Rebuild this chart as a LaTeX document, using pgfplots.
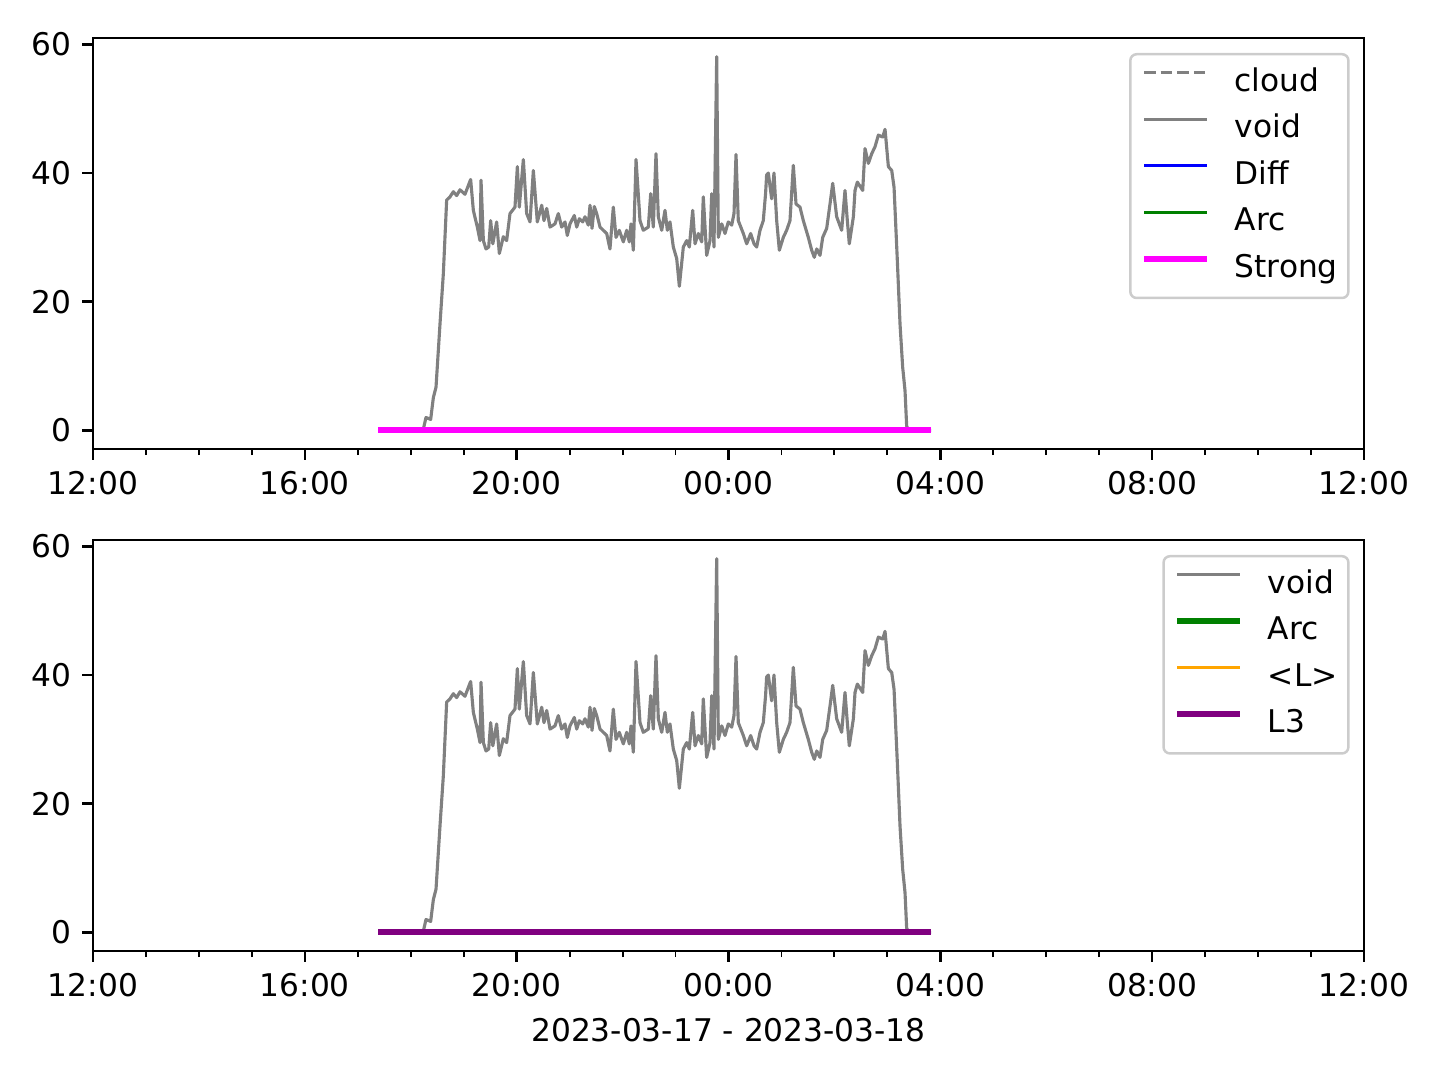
\documentclass[border=0pt]{standalone}
\usepackage{fontspec}
\setmainfont{DejaVu Sans}
\usepackage{pgfplots}
\usepackage{pgfplotstable}
\pgfplotsset{compat=1.18}

\definecolor{mgray}{RGB}{128,128,128}
\definecolor{mblue}{RGB}{0,0,255}
\definecolor{mgreen}{RGB}{0,128,0}
\definecolor{mmagenta}{RGB}{255,0,255}
\definecolor{morange}{RGB}{255,165,0}
\definecolor{mpurple}{RGB}{128,0,128}

% hours since 00:00 on 2023-03-17
\pgfplotstableread{
h v
17.382 0
18.200 0
18.238 0.2
18.288 2.0
18.376 1.7
18.427 5.1
18.477 6.7
18.552 16.5
18.615 24.3
18.678 35.8
18.741 36.3
18.804 37.1
18.867 36.5
18.930 37.4
19.024 36.7
19.131 39.0
19.182 34.2
19.257 31.6
19.308 29.5
19.327 38.9
19.371 29.5
19.421 28.2
19.472 28.5
19.509 32.6
19.550 29.0
19.622 32.4
19.673 27.5
19.748 30.1
19.811 29.5
19.874 33.7
19.968 34.7
20.013 41.0
20.050 34.7
20.126 42.1
20.189 33.7
20.252 32.4
20.315 40.4
20.390 32.4
20.473 35.0
20.516 32.6
20.567 34.5
20.630 31.6
20.724 32.1
20.786 33.7
20.850 31.6
20.913 32.4
20.956 30.3
21.007 32.1
21.088 33.4
21.134 31.6
21.183 32.9
21.247 32.4
21.290 33.2
21.353 31.9
21.385 35.0
21.423 31.4
21.466 34.8
21.511 33.7
21.574 31.6
21.636 31.1
21.700 30.6
21.762 28.2
21.825 34.7
21.876 30.0
21.938 31.1
22.014 29.3
22.078 31.1
22.127 29.3
22.159 32.1
22.203 28.0
22.254 42.1
22.329 32.6
22.391 31.1
22.486 31.6
22.531 36.8
22.580 31.6
22.631 43.0
22.675 33.2
22.739 31.1
22.801 34.2
22.845 31.1
22.895 32.4
22.958 28.5
23.022 26.7
23.072 22.4
23.147 28.5
23.211 29.5
23.260 28.5
23.324 34.2
23.368 29.0
23.430 30.6
23.494 29.3
23.524 36.3
23.588 27.2
23.651 29.5
23.683 36.8
23.726 28.5
23.777 58.1
23.808 30.0
23.872 32.1
23.934 30.6
23.996 32.4
24.060 31.9
24.104 33.7
24.142 42.9
24.185 32.6
24.280 30.6
24.344 29.0
24.419 30.6
24.482 29.0
24.532 28.5
24.595 31.1
24.657 32.6
24.700 36.8
24.720 39.7
24.752 40.0
24.815 36.0
24.859 40.0
24.910 32.6
24.960 28.0
25.035 30.0
25.098 31.1
25.161 32.6
25.224 41.2
25.275 35.2
25.350 34.7
25.413 32.6
25.507 30.0
25.571 28.0
25.620 26.9
25.666 28.2
25.728 27.2
25.779 30.0
25.854 31.4
25.917 35.2
25.968 38.4
26.043 33.2
26.137 31.1
26.200 37.3
26.244 32.6
26.281 29.0
26.358 33.2
26.389 37.3
26.433 38.6
26.534 37.3
26.578 43.8
26.641 41.5
26.704 43.0
26.767 44.1
26.830 45.9
26.912 45.6
26.956 46.8
27.019 41.0
27.082 40.4
27.126 37.8
27.188 26.4
27.239 16.5
27.289 9.8
27.333 6.2
27.364 0.7
27.396 0.0
27.824 0
}\voiddata

\pgfplotsset{
  panel/.style={
    scale only axis, width=406.72pt, height=131.52pt,
    xmin=12, xmax=36, ymin=-2.9, ymax=61,
    xtick={12,16,...,36},
    xticklabels={12:00,16:00,20:00,00:00,04:00,08:00,12:00},
    minor x tick num=3,
    ytick={0,20,40,60},
    tick pos=left, tick align=outside,
    major tick length=3.5pt, minor tick length=2pt,
    every major tick/.style={black, line width=0.8pt},
    every minor tick/.style={black, line width=0.6pt},
    axis line style={line width=0.8pt},
    tick label style={font=\fontsize{10}{12}\selectfont},
    /pgf/number format/assume math mode=true,
    legend cell align=left,
    legend style={at={(1,1)}, anchor=north east, xshift=-4.6pt, yshift=-4.8pt,
      draw=black!20, line width=0.8pt, rounded corners=2pt,
      fill=white, fill opacity=0.8, text opacity=1,
      font=\fontsize{10}{12}\selectfont,
      inner xsep=3.4pt, inner ysep=4.2pt, row sep=4.9pt, column sep=8pt,
      nodes={inner sep=0pt, text height=7.6pt, text depth=2.4pt}},
    legend image code/.code={\draw[#1] (0pt,3.3pt) -- (20pt,3.3pt);},
    every axis plot/.append style={line join=round},
  }
}

\begin{document}
\begin{tikzpicture}
\path[use as bounding box] (0,0) rectangle (460.8pt,345.6pt);

\begin{axis}[panel, at={(29.76pt,201.92pt)}, anchor=south west]
\addplot[mgray, line width=1pt, dash pattern=on 3.7pt off 1.6pt] coordinates {(17.382,0) (27.824,0)};
\addlegendentry{cloud}
\addplot[mgray, line width=1pt] table[x=h, y=v] {\voiddata};
\addlegendentry{void}
\addplot[mblue, line width=1pt] coordinates {(17.382,0) (27.824,0)};
\addlegendentry{Diff}
\addplot[mgreen, line width=1pt] coordinates {(17.382,0) (27.824,0)};
\addlegendentry{Arc}
\addplot[mmagenta, line width=2pt] coordinates {(17.382,0) (27.824,0)};
\addlegendentry{Strong}
\end{axis}

\begin{axis}[panel, at={(29.76pt,41.28pt)}, anchor=south west,
  xlabel={2023-03-17 - 2023-03-18},
  xlabel style={font=\fontsize{10}{12}\selectfont}]
\addplot[mgray, line width=1pt] table[x=h, y=v] {\voiddata};
\addlegendentry{void}
\addplot[mgreen, line width=2pt] coordinates {(17.382,0) (27.824,0)};
\addlegendentry{Arc}
\addplot[morange, line width=1pt] coordinates {(17.382,0) (27.824,0)};
\addlegendentry{<L>}
\addplot[mpurple, line width=2pt] coordinates {(17.382,0) (27.824,0)};
\addlegendentry{L3}
\end{axis}
\end{tikzpicture}
\end{document}
